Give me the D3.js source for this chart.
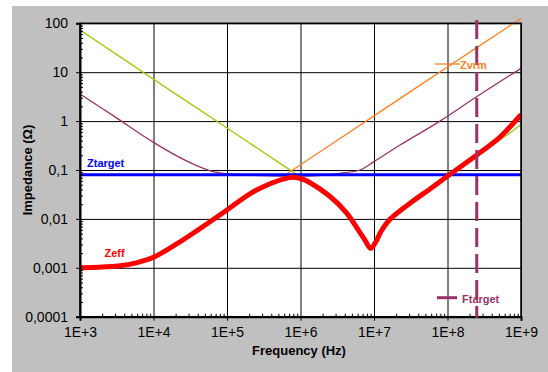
<!DOCTYPE html>
<html>
<head>
<meta charset="utf-8">
<script src="https://cdn.jsdelivr.net/npm/d3@7"></script>
<style>
body { margin: 0; background: #fff; }
text { font-family: "Liberation Sans", Arial, sans-serif; }
</style>
</head>
<body>
<div id="chart"></div>
<script>
const width = 548;
const height = 372;

// axis ticks
const xTicks = [1e3, 1e4, 1e5, 1e6, 1e7, 1e8, 1e9];
const xLabels = ["1E+3", "1E+4", "1E+5", "1E+6", "1E+7", "1E+8", "1E+9"];
const yTicks = [1e-4, 1e-3, 1e-2, 1e-1, 1, 10, 100];
const yLabels = ["0,0001", "0,001", "0,01", "0,1", "1", "10", "100"];

// Zeff (red)
const zeffFreq = [1e3, 2e3, 3.3e3, 6e3, 1e4, 2.15e4, 4e4, 1e5, 2.1e5, 4e5, 6e5, 7.8e5, 1e6, 1.35e6, 2.5e6, 4.2e6, 6e6, 7.6e6, 9e6, 1.05e7, 1.25e7, 1.65e7, 3.1e7, 5.8e7, 1.06e8, 2.5e8, 5e8, 7e8, 1e9];
const zeffZ = [0.001, 0.00104, 0.00109, 0.00128, 0.00164, 0.0032, 0.0059, 0.0152, 0.0334, 0.0535, 0.066, 0.071, 0.067, 0.055, 0.029, 0.0135, 0.0062, 0.0036, 0.0025, 0.0033, 0.0056, 0.0098, 0.021, 0.041, 0.08, 0.203, 0.45, 0.75, 1.35];

// bulk capacitor (green)
const capFreq = [1e3, 1e4, 1e5, 7.5e5, 1.35e6, 2.5e6, 4.2e6, 6e6, 7.6e6, 9e6, 1.05e7, 1.25e7, 1.65e7, 3.1e7, 5.8e7, 1.06e8, 2.5e8, 5e8, 6.7e8, 1e9];
const capZ = [73, 7.2, 0.72, 0.096, 0.054, 0.029, 0.0133, 0.006, 0.0035, 0.0025, 0.0032, 0.0054, 0.0096, 0.0205, 0.040, 0.079, 0.19, 0.4, 0.54, 0.85];

// second network (purple)
const pdnFreq = [1e3, 3e3, 1e4, 2.9e4, 6.1e4, 1e5, 3e5, 1e6, 2e6, 3.44e6, 6.45e6, 1e7, 2.26e7, 7.9e7, 2.37e8, 1e9];
const pdnZ = [3.58, 1.22, 0.368, 0.15, 0.095, 0.084, 0.077, 0.075, 0.078, 0.0857, 0.1, 0.148, 0.324, 1.0, 3.0, 12];

// Zvrm (orange)
const vrmFreq = [1e3, 3e3, 1e4, 2e4, 4e4, 1e5, 2e5, 4e5, 7.2e5, 1e7, 1e8, 1e9];
const vrmZ = [0.001, 0.00106, 0.0016, 0.003, 0.0057, 0.0145, 0.030, 0.051, 0.092, 1.28, 12.8, 126];

// targets
const zTarget = 0.08;
const fTarget = 2.5e8;

const x = d3.scaleLog().domain([1e3, 1e9]).range([80, 521]);
const y = d3.scaleLog().domain([1e-4, 100]).range([316.7, 23.3]);

const svg = d3.select("#chart")
	.append("svg")
	.attr("width", width)
	.attr("height", height)

// gray chart area
svg.append("rect")
	.attr("x", 12)
	.attr("y", 6)
	.attr("width", width - 12)
	.attr("height", height - 6)
	.attr("fill", "#c0c0c0")

// white plot area
svg.append("rect")
	.attr("x", x(1e3))
	.attr("y", y(100))
	.attr("width", x(1e9) - x(1e3))
	.attr("height", y(1e-4) - y(100))
	.attr("fill", "#fff")

// minor tick positions 2..9 in every decade
function minors(ticks){
	let out = []
	ticks.slice(0, -1).forEach(function (d){
		for(let k = 2; k < 10; k++) out.push(d * k)
	})
	return out
}

// grid
svg.append("g")
	.attr("transform", `translate(0,${y(1e-4)})`)
	.call(d3.axisBottom(x).tickValues(xTicks).tickSize(-(y(1e-4) - y(100))).tickFormat(""))
	.call(g => g.select(".domain").remove())
	.call(g => g.selectAll("line").attr("stroke", "#000").attr("stroke-width", 1))

svg.append("g")
	.attr("transform", `translate(${x(1e3)},0)`)
	.call(d3.axisLeft(y).tickValues(yTicks).tickSize(-(x(1e9) - x(1e3))).tickFormat(""))
	.call(g => g.select(".domain").remove())
	.call(g => g.selectAll("line").attr("stroke", "#000").attr("stroke-width", 1))

// draw one series
function drawSeries(freq, vals, color, w){
	let pts = freq.map((f, i) => [f, vals[i]])
	svg.append("path")
		.datum(pts)
		.attr("fill", "none")
		.attr("stroke", color)
		.attr("stroke-width", w)
		.attr("stroke-linejoin", "round")
		.attr("d", d3.line()
			.x(d => x(d[0]))
			.y(d => y(d[1]))
			.curve(d3.curveCatmullRom.alpha(0.5)))
}

drawSeries(capFreq, capZ, "#99cc00", 1.3)
drawSeries(pdnFreq, pdnZ, "#993366", 1.3)
drawSeries(vrmFreq, vrmZ, "#ff8021", 1.3)

// Ztarget
svg.append("line")
	.attr("x1", x(1e3))
	.attr("x2", x(1e9))
	.attr("y1", y(zTarget))
	.attr("y2", y(zTarget))
	.attr("stroke", "#0000ff")
	.attr("stroke-width", 3)

drawSeries(zeffFreq, zeffZ, "#ff0000", 5)

// frame
svg.append("rect")
	.attr("x", x(1e3))
	.attr("y", y(100))
	.attr("width", x(1e9) - x(1e3))
	.attr("height", y(1e-4) - y(100))
	.attr("fill", "none")
	.attr("stroke", "#000")
	.attr("stroke-width", 1.5)

// x axis
let xAxis = svg.append("g")
	.attr("transform", `translate(0,${y(1e-4)})`)
	.call(d3.axisBottom(x).tickValues(xTicks).tickSize(4).tickPadding(6).tickFormat((d, i) => xLabels[i]))
xAxis.append("g")
	.call(d3.axisBottom(x).tickValues(minors(xTicks)).tickSize(-3).tickFormat(""))
	.call(g => g.select(".domain").remove())

// y axis
let yAxis = svg.append("g")
	.attr("transform", `translate(${x(1e3)},0)`)
	.call(d3.axisLeft(y).tickValues(yTicks).tickSize(4).tickPadding(8).tickFormat((d, i) => yLabels[i]))
yAxis.append("g")
	.call(d3.axisLeft(y).tickValues(minors(yTicks)).tickSize(-3).tickFormat(""))
	.call(g => g.select(".domain").remove())

svg.selectAll(".domain").attr("stroke", "#000").attr("stroke-width", 2)
xAxis.selectAll("text").attr("font-size", 14).attr("fill", "#000").attr("font-family", null)
yAxis.selectAll("text").attr("font-size", 14).attr("fill", "#000").attr("font-family", null)

// Ftarget dashed marker
svg.append("line")
	.attr("x1", x(fTarget))
	.attr("x2", x(fTarget))
	.attr("y1", 20)
	.attr("y2", y(1e-4) + 1)
	.attr("stroke", "#993366")
	.attr("stroke-width", 3)
	.attr("stroke-dasharray", "19,7")

// axis titles
svg.append("text")
	.attr("x", 299)
	.attr("y", 355)
	.attr("text-anchor", "middle")
	.attr("font-size", 13)
	.attr("font-weight", "bold")
	.text("Frequency (Hz)")

svg.append("text")
	.attr("transform", "translate(32,170) rotate(-90)")
	.attr("text-anchor", "middle")
	.attr("font-size", 13)
	.attr("font-weight", "bold")
	.text("Impedance (Ω)")

// series labels
function label(txt, lx, ly, color){
	svg.append("text")
		.attr("x", lx)
		.attr("y", ly)
		.attr("font-size", 11)
		.attr("font-weight", "bold")
		.attr("fill", color)
		.text(txt)
}
label("Ztarget", 87, 166.5, "#0000ff")
label("Zeff", 104.5, 256.5, "#ff0000")
label("Zvrm", 460, 69, "#ff8021")
label("Ftarget", 462, 302.5, "#993366")

// legend keys
svg.append("line")
	.attr("x1", 435).attr("x2", 460).attr("y1", 64).attr("y2", 64)
	.attr("stroke", "#ff8021").attr("stroke-width", 1.3)
svg.append("line")
	.attr("x1", 437).attr("x2", 457).attr("y1", 297.7).attr("y2", 297.7)
	.attr("stroke", "#993366").attr("stroke-width", 3)
</script>
</body>
</html>
